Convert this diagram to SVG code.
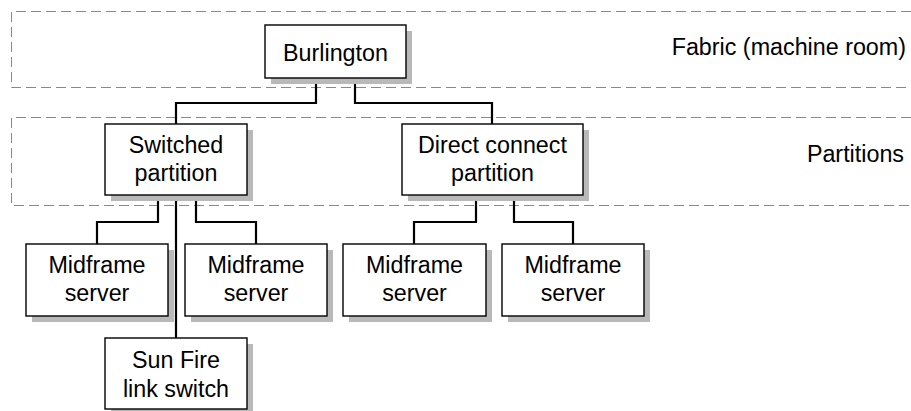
<svg xmlns="http://www.w3.org/2000/svg" width="911" height="411" viewBox="0 0 911 411">
  <style>
    .zone { fill: none; stroke: #888888; stroke-width: 1; stroke-dasharray: 10 5; }
    .shadow { fill: #b9b9b9; }
    .box { fill: #ffffff; stroke: #000000; stroke-width: 1.4; }
    .label { font-family: "Liberation Sans", Arial, sans-serif; font-size: 23.3px; fill: #000000; text-anchor: middle; }
    .zlabel { font-family: "Liberation Sans", Arial, sans-serif; font-size: 23.3px; fill: #000000; text-anchor: end; }
    .link { fill: none; stroke: #000000; stroke-width: 2.2; }
  </style>
  <rect width="911" height="411" fill="#ffffff"/>

  <!-- zones -->
  <g id="zone-fabric">
    <path class="zone" d="M911,11.5 H11.5 V87.5 H911"/>
    <text class="zlabel" x="906" y="55">Fabric (machine room)</text>
  </g>
  <g id="zone-partitions">
    <path class="zone" d="M911,117.5 H11.5 V205.5 H911"/>
    <text class="zlabel" x="904" y="162">Partitions</text>
  </g>

  <!-- connectors -->
  <g id="connectors">
    <path class="link" d="M316,78 V103 H176 V124"/>
    <path class="link" d="M355,78 V103 H492 V124"/>
    <path class="link" d="M158,195 V222 H97 V244"/>
    <path class="link" d="M196,195 V222 H256 V244"/>
    <path class="link" d="M176,195 V338"/>
    <path class="link" d="M476,195 V222 H414 V244"/>
    <path class="link" d="M514,195 V222 H573 V244"/>
  </g>

  <!-- nodes -->
  <g id="burlington">
    <rect class="shadow" x="271" y="31" width="141" height="53"/>
    <rect class="box" x="265" y="25" width="141" height="53"/>
    <text class="label" x="335.5" y="61">Burlington</text>
  </g>
  <g id="switched-partition">
    <rect class="shadow" x="111" y="130" width="142" height="71"/>
    <rect class="box" x="105" y="124" width="142" height="71"/>
    <text class="label" x="176" y="153">Switched</text>
    <text class="label" x="176" y="181">partition</text>
  </g>
  <g id="direct-connect-partition">
    <rect class="shadow" x="408" y="130" width="181" height="71"/>
    <rect class="box" x="402" y="124" width="181" height="71"/>
    <text class="label" x="492.5" y="153">Direct connect</text>
    <text class="label" x="492.5" y="181">partition</text>
  </g>
  <g id="midframe-1">
    <rect class="shadow" x="32" y="250" width="142" height="72"/>
    <rect class="box" x="26" y="244" width="142" height="72"/>
    <text class="label" x="97" y="273">Midframe</text>
    <text class="label" x="97" y="301">server</text>
  </g>
  <g id="midframe-2">
    <rect class="shadow" x="191" y="250" width="142" height="72"/>
    <rect class="box" x="185" y="244" width="142" height="72"/>
    <text class="label" x="256" y="273">Midframe</text>
    <text class="label" x="256" y="301">server</text>
  </g>
  <g id="midframe-3">
    <rect class="shadow" x="349" y="250" width="143" height="72"/>
    <rect class="box" x="343" y="244" width="143" height="72"/>
    <text class="label" x="414.5" y="273">Midframe</text>
    <text class="label" x="414.5" y="301">server</text>
  </g>
  <g id="midframe-4">
    <rect class="shadow" x="508" y="250" width="142" height="72"/>
    <rect class="box" x="502" y="244" width="142" height="72"/>
    <text class="label" x="573" y="273">Midframe</text>
    <text class="label" x="573" y="301">server</text>
  </g>
  <g id="sun-fire-link-switch">
    <rect class="shadow" x="111" y="344" width="142" height="71"/>
    <rect class="box" x="105" y="338" width="142" height="71"/>
    <text class="label" x="176" y="368">Sun Fire</text>
    <text class="label" x="176" y="397">link switch</text>
  </g>
</svg>
